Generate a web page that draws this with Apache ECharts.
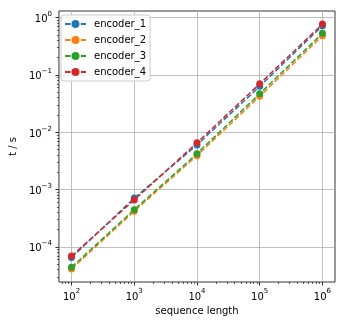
<!DOCTYPE html>
<html><head><meta charset="utf-8">
<script src="https://cdn.jsdelivr.net/npm/echarts@6/dist/echarts.min.js"></script>
<style>html,body{margin:0;padding:0;background:#fff}#c{width:345px;height:324px}</style>
</head><body><div id="c"></div>
<script>
const seqLengths = [100, 1000, 10000, 100000, 1000000];
const encoder_1 = [6.5e-5, 7.1e-4, 6.0e-3, 0.063, 0.72];
const encoder_2 = [4.1e-5, 4.2e-4, 3.9e-3, 0.0424, 0.48];
const encoder_3 = [4.4e-5, 4.45e-4, 4.22e-3, 0.0469, 0.53];
const encoder_4 = [6.9e-5, 6.6e-4, 6.55e-3, 0.0698, 0.77];
const seriesNames = ['encoder_1', 'encoder_2', 'encoder_3', 'encoder_4'];
const seriesValues = [encoder_1, encoder_2, encoder_3, encoder_4];
const colors = ['#1f77b4', '#ff7f0e', '#2ca02c', '#d62728'];
const xMajorTicks = [1e2, 1e3, 1e4, 1e5, 1e6];
const yMajorTicks = [1e-4, 1e-3, 1e-2, 1e-1, 1e0];
const xRange = [63.1, 1584893];
const yRange = [2.44e-5, 1.30];

function minorTicks(lo, hi) {
  const out = [];
  for (let e = Math.floor(Math.log10(lo)); e <= Math.ceil(Math.log10(hi)); e++) {
    for (let m = 2; m <= 9; m++) {
      const v = m * Math.pow(10, e);
      if (v >= lo && v <= hi) out.push(v);
    }
  }
  return out;
}
const FONT = 'DejaVu Sans';
function powLabel(v) {
  const e = Math.round(Math.log10(v));
  const s = e < 0 ? '\u2212' + (-e) : String(e);
  return '{b|10}{s|' + s + '}';
}
const rich = {
  b: { fontFamily: FONT, fontSize: 10, color: '#000', verticalAlign: 'bottom', lineHeight: 14 },
  s: { fontFamily: FONT, fontSize: 7, color: '#000', verticalAlign: 'top', lineHeight: 14 }
};
const gridLine = { show: true, lineStyle: { color: '#b0b0b0', width: 0.8 } };

const chart = echarts.init(document.getElementById('c'), null, { renderer: 'canvas' });
chart.setOption({
  animation: false,
  backgroundColor: '#fff',
  textStyle: { fontFamily: FONT },
  grid: { left: 57, right: 10, top: 11, bottom: 42, show: true, borderColor: '#000', borderWidth: 0.8, backgroundColor: 'transparent' },
  legend: {
    orient: 'vertical', left: 61, top: 15,
    data: seriesNames,
    itemWidth: 21, itemHeight: 10, itemGap: 6,
    padding: [4, 4, 4, 3],
    backgroundColor: 'rgba(255,255,255,0.8)',
    borderColor: '#cccccc', borderWidth: 1, borderRadius: 3,
    textStyle: { fontFamily: FONT, fontSize: 10, color: '#000', padding: [0, 0, 0, 3] }
  },
  xAxis: [{
    type: 'log', min: xRange[0], max: xRange[1],
    name: 'sequence length', nameLocation: 'middle', nameGap: 23,
    nameTextStyle: { fontFamily: FONT, fontSize: 10, color: '#000' },
    axisLine: { show: false },
    axisTick: { show: true, inside: false, length: 3.5, lineStyle: { color: '#000', width: 0.8 }, customValues: xMajorTicks },
    axisLabel: { customValues: xMajorTicks, margin: 6, formatter: powLabel, rich: rich },
    splitLine: gridLine
  }, {
    type: 'log', min: xRange[0], max: xRange[1], position: 'bottom',
    axisLine: { show: false },
    axisTick: { show: true, length: 2, lineStyle: { color: '#000', width: 0.6 }, customValues: minorTicks(xRange[0], xRange[1]) },
    axisLabel: { show: false }, splitLine: { show: false }
  }],
  yAxis: [{
    type: 'log', min: yRange[0], max: yRange[1],
    name: 't / s', nameLocation: 'middle', nameGap: 38,
    nameTextStyle: { fontFamily: FONT, fontSize: 10, color: '#000' },
    axisLine: { show: false },
    axisTick: { show: true, length: 3.5, lineStyle: { color: '#000', width: 0.8 }, customValues: yMajorTicks },
    axisLabel: { customValues: yMajorTicks, margin: 7, formatter: powLabel, rich: rich },
    splitLine: gridLine
  }, {
    type: 'log', min: yRange[0], max: yRange[1], position: 'left',
    axisLine: { show: false },
    axisTick: { show: true, length: 2, lineStyle: { color: '#000', width: 0.6 }, customValues: minorTicks(yRange[0], yRange[1]) },
    axisLabel: { show: false }, splitLine: { show: false }
  }],
  series: seriesNames.map((name, i) => ({
    name: name, type: 'line', xAxisIndex: 0, yAxisIndex: 0,
    data: seqLengths.map((x, j) => [x, seriesValues[i][j]]),
    symbol: 'circle', symbolSize: 7, showSymbol: true,
    lineStyle: { color: colors[i], width: 1.5, type: [5.5, 2.4] },
    itemStyle: { color: colors[i] },
    emphasis: { disabled: true }
  }))
});
</script></body></html>
